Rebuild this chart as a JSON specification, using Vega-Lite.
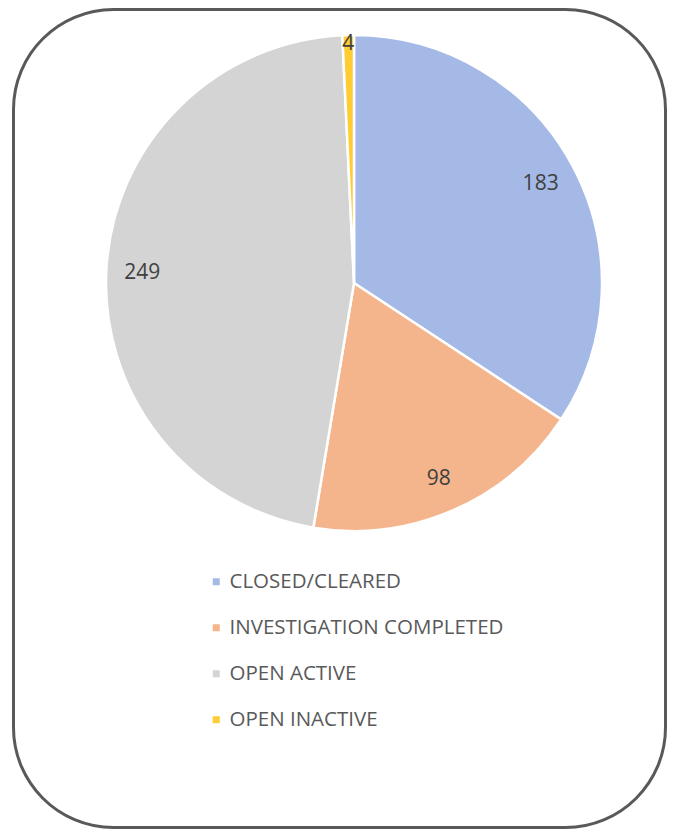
{
  "$schema": "https://vega.github.io/schema/vega-lite/v6.json",
  "width": 652,
  "height": 818,
  "autosize": {"type": "none"},
  "padding": {"left": 13.5, "top": 9.5, "right": 12.5, "bottom": 8.5},
  "background": "white",
  "config": {
    "view": {"stroke": null},
    "font": "Open Sans"
  },
  "layer": [
    {
      "data": {"values": [{"frame": "border"}]},
      "mark": {"type": "rect", "fill": "white", "stroke": "#595959", "strokeWidth": 3, "cornerRadius": 100}
    },
    {
      "data": {
        "values": [
          {"status": "CLOSED/CLEARED", "count": 183, "ord": 1},
          {"status": "INVESTIGATION COMPLETED", "count": 98, "ord": 2},
          {"status": "OPEN ACTIVE", "count": 249, "ord": 3},
          {"status": "OPEN INACTIVE", "count": 4, "ord": 4}
        ]
      },
      "encoding": {
        "theta": {"field": "count", "type": "quantitative", "stack": true},
        "order": {"field": "ord", "type": "quantitative"},
        "color": {
          "field": "status",
          "type": "nominal",
          "sort": ["CLOSED/CLEARED", "INVESTIGATION COMPLETED", "OPEN ACTIVE", "OPEN INACTIVE"],
          "scale": {
            "domain": ["CLOSED/CLEARED", "INVESTIGATION COMPLETED", "OPEN ACTIVE", "OPEN INACTIVE"],
            "range": ["#a4b9e6", "#f5b58c", "#d4d4d4", "#ffcc33"]
          },
          "legend": {
            "orient": "none",
            "legendX": 192.5,
            "legendY": 562,
            "direction": "vertical",
            "title": null,
            "padding": 0,
            "symbolType": "square",
            "symbolSize": 49,
            "symbolStrokeWidth": 0,
            "labelFont": "Open Sans",
            "labelFontSize": 20.5,
            "labelColor": "#595959",
            "labelOffset": 3,
            "rowPadding": 25,
            "labelLimit": 400
          }
        }
      },
      "layer": [
        {
          "mark": {"type": "arc", "outerRadius": 248, "stroke": "white", "strokeWidth": 2.5, "x": 340.5, "y": 273.5}
        },
        {
          "mark": {"type": "text", "font": "Open Sans", "fontSize": 21, "x": 340.5, "y": 273.5, "dy": 2, "align": "center", "baseline": "middle", "radius": 212, "fill": "#404040"},
          "encoding": {
            "text": {"field": "count", "type": "quantitative"},
            "color": {"value": "#404040"},
            "opacity": {"condition": {"test": "datum.count < 10", "value": 0}, "value": 1}
          }
        },
        {
          "mark": {"type": "text", "font": "Open Sans", "fontSize": 21, "x": 340.5, "y": 273.5, "dy": 2, "align": "center", "baseline": "middle", "radius": 241, "fill": "#404040"},
          "encoding": {
            "text": {"field": "count", "type": "quantitative"},
            "color": {"value": "#404040"},
            "opacity": {"condition": {"test": "datum.count < 10", "value": 1}, "value": 0}
          }
        }
      ]
    }
  ]
}
